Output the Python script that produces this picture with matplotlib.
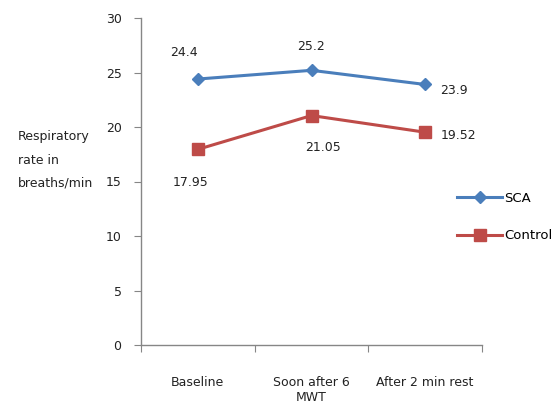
import matplotlib
matplotlib.use("Agg")
import matplotlib.pyplot as plt
from matplotlib.ticker import FixedLocator

categories = ["Baseline", "Soon after 6\nMWT", "After 2 min rest"]
sca = [24.4, 25.2, 23.9]
control = [17.95, 21.05, 19.52]
sca_labels = ["24.4", "25.2", "23.9"]
control_labels = ["17.95", "21.05", "19.52"]
yticks = [0, 5, 10, 15, 20, 25, 30]

plt.rcParams['font.family'] = ['DejaVu Sans']
W, H = 554, 409
fig = plt.figure(figsize=(W / 100, H / 100), dpi=100)
ax = fig.add_axes([141 / W, 1 - 345 / H, (482 - 141) / W, (345 - 18) / H])

x = [1, 2, 3]
blue = "#4A7EBB"
red = "#BE4B48"
l1, = ax.plot(x, sca, color=blue, lw=2.2, marker="D", ms=6, label="SCA")
l2, = ax.plot(x, control, color=red, lw=2.2, marker="s", ms=8, label="Control")

ax.set_xlim(0.5, 3.5)
ax.set_ylim(0, 30)
ax.set_yticks(yticks)
ax.set_yticklabels([str(v) for v in yticks])
ax.xaxis.set_major_locator(FixedLocator([0.5, 1.5, 2.5, 3.5]))
ax.xaxis.set_major_formatter(plt.NullFormatter())
ax.xaxis.set_minor_locator(FixedLocator(x))
ax.set_xticklabels(categories, minor=True)
ax.tick_params(axis="x", which="minor", length=0, pad=22, labelsize=9, labelcolor="#222222")
ax.tick_params(axis="x", which="major", length=5, color="#868686")
ax.tick_params(axis="y", length=5, color="#868686", pad=9, labelsize=9, labelcolor="#222222")

for s in ["top", "right"]:
    ax.spines[s].set_visible(False)
for s in ["left", "bottom"]:
    ax.spines[s].set_color("#868686")
    ax.spines[s].set_linewidth(1.0)

# data labels (offsets in points)
sca_off = [(-10, 19), (0, 17), (21, -4)]
ctl_off = [(-5, -24), (8, -23), (24, -2)]
for xi, v, t, o in zip(x, sca, sca_labels, sca_off):
    ax.annotate(t, (xi, v), xytext=o, textcoords="offset points",
                ha="center", va="center", fontsize=9, color="#222222")
for xi, v, t, o in zip(x, control, control_labels, ctl_off):
    ax.annotate(t, (xi, v), xytext=o, textcoords="offset points",
                ha="center", va="center", fontsize=9, color="#222222")

fig.text(18 / W, 1 - 160 / H, "Respiratory\nrate in\nbreaths/min", ha="left", va="center",
         fontsize=9, color="#222222", linespacing=2.05)

fig.legend(handles=[l1, l2], loc="center left", bbox_to_anchor=(452 / W, 1 - 217 / H),
           frameon=False, handlelength=3.4, handletextpad=0.15, labelspacing=1.85,
           fontsize=9.5, borderaxespad=0)

fig.savefig("out.png", dpi=100)
